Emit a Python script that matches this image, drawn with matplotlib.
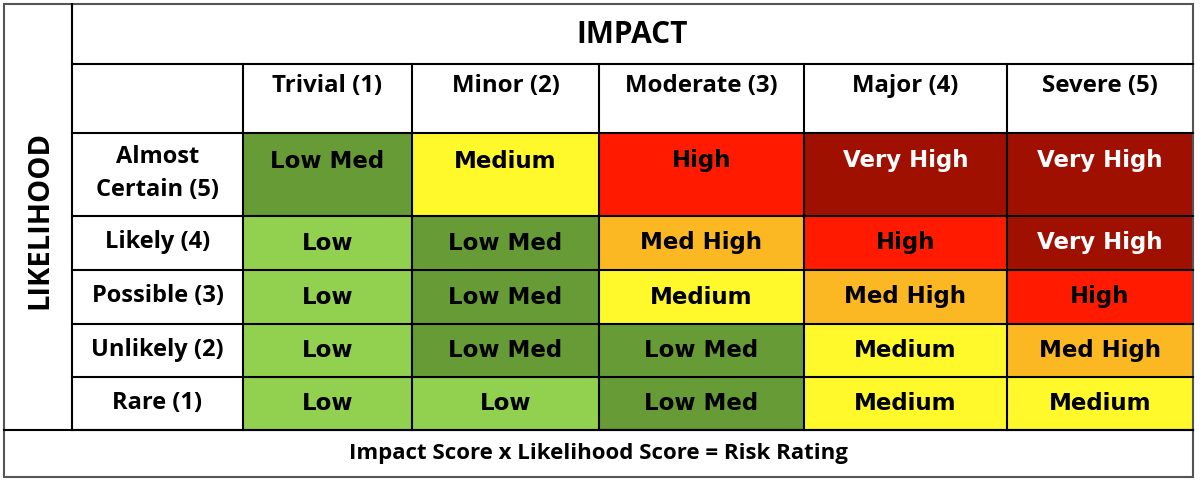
import matplotlib.pyplot as plt
from matplotlib.patches import Rectangle

# data
impact_labels = ["Trivial (1)", "Minor (2)", "Moderate (3)", "Major (4)", "Severe (5)"]
likelihood_labels = ["Almost\nCertain (5)", "Likely (4)", "Possible (3)", "Unlikely (2)", "Rare (1)"]
ratings = [
    ["Low Med", "Medium", "High", "Very High", "Very High"],
    ["Low", "Low Med", "Med High", "High", "Very High"],
    ["Low", "Low Med", "Medium", "Med High", "High"],
    ["Low", "Low Med", "Low Med", "Medium", "Med High"],
    ["Low", "Low", "Low Med", "Medium", "Medium"],
]
rating_colors = {
    "Low": "#92D050",
    "Low Med": "#669B36",
    "Medium": "#FFF82A",
    "Med High": "#FCB822",
    "High": "#FF1A00",
    "Very High": "#A01000",
}
rating_text = {"Very High": "white"}

# layout (pixels)
W, H = 1200, 483
x_left, x_lik, x_lab = 4, 72, 243
col_edges = [243, 412, 599, 804, 1007, 1193]
y_top, y_impact, y_head = 4, 64, 133
row_edges = [133, 216, 270, 324, 377, 430]
y_bottom = 477

HEAD_FONT = "Open Sans"
CELL_FONT = "DejaVu Sans"

fig = plt.figure(figsize=(W / 100, H / 100), dpi=100)
ax = fig.add_axes([0, 0, 1, 1])
ax.set_xlim(0, W)
ax.set_ylim(H, 0)
ax.axis("off")

line_kw = dict(color="black", linewidth=1.5, solid_capstyle="projecting")

# cells
for i, row in enumerate(ratings):
    y0, y1 = row_edges[i], row_edges[i + 1]
    for j, r in enumerate(row):
        x0, x1 = col_edges[j], col_edges[j + 1]
        ax.add_patch(Rectangle((x0, y0), x1 - x0, y1 - y0, facecolor=rating_colors[r], edgecolor="none"))
        ty = y0 + 28 if i == 0 else (y0 + y1) / 2
        ax.text((x0 + x1) / 2, ty, r, ha="center", va="center", fontsize=16.5,
                fontweight="bold", family=CELL_FONT, color=rating_text.get(r, "black"))
    ax.text((x_lik + x_lab) / 2, (y0 + y1) / 2 - 1, likelihood_labels[i], ha="center", va="center",
            fontsize=17, fontweight="bold", family=HEAD_FONT, linespacing=1.5)

for j, lab in enumerate(impact_labels):
    ax.text((col_edges[j] + col_edges[j + 1]) / 2, y_impact + 22, lab, ha="center", va="center",
            fontsize=17.3, fontweight="bold", family=HEAD_FONT)

ax.text((x_lik + col_edges[-1]) / 2, 35, "IMPACT", ha="center", va="center",
        fontsize=21.5, fontweight="bold", family=HEAD_FONT)
ax.text(40, 220, "LIKELIHOOD", ha="center", va="center", rotation=90,
        fontsize=21, fontweight="bold", family=HEAD_FONT)
ax.text((x_left + col_edges[-1]) / 2, 454, "Impact Score x Likelihood Score = Risk Rating",
        ha="center", va="center", fontsize=16, fontweight="bold", family=HEAD_FONT)

# grid lines
ax.plot([x_lik, x_lik], [y_top, row_edges[-1]], **line_kw)
ax.plot([x_lik, col_edges[-1]], [y_impact, y_impact], **line_kw)
for y in row_edges:
    ax.plot([x_lik, col_edges[-1]], [y, y], **line_kw)
ax.plot([x_left, col_edges[-1]], [row_edges[-1], row_edges[-1]], **line_kw)
for x in [x_lab] + col_edges[1:-1]:
    ax.plot([x, x], [y_impact, row_edges[-1]], **line_kw)

# outer frame
ax.add_patch(Rectangle((x_left, y_top), col_edges[-1] - x_left, y_bottom - y_top,
                       facecolor="none", edgecolor="#555555", linewidth=1.5))

fig.savefig("out.png", dpi=100, facecolor="white")
